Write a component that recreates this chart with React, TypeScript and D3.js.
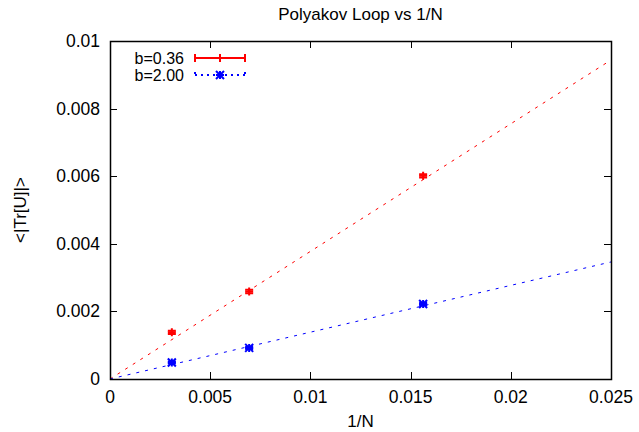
import React, { useRef, useEffect } from "react";
import * as d3 from "d3";

// Data
const invN = [0.003086, 0.006944, 0.015625];
const redVals = [0.00138, 0.00259, 0.00601];
const redErr = [0.00005, 0.00005, 0.00005];
const blueVals = [0.00049, 0.00092, 0.00222];
const blueErr = [0.00003, 0.00003, 0.00003];
const redSlope = 0.3775;
const blueSlope = 0.1385;
const xTicks = [0, 0.005, 0.01, 0.015, 0.02, 0.025];
const yTicks = [0, 0.002, 0.004, 0.006, 0.008, 0.01];
const legendLabels = ["b=0.36", "b=2.00"];

const FONT = "Liberation Sans, Arial, sans-serif";

const App = () => {
  const svgRef = useRef<SVGSVGElement | null>(null);

  useEffect(() => {
    const dims = { width: 639, height: 432, left: 110, right: 611, top: 41, bottom: 379 };

    const svg = d3.select(svgRef.current).attr("width", dims.width).attr("height", dims.height);
    svg.selectAll("*").remove();

    const x = d3.scaleLinear().domain([0, 0.025]).range([dims.left, dims.right]);
    const y = d3.scaleLinear().domain([0, 0.01]).range([dims.bottom, dims.top]);

    svg.append("rect").attr("width", dims.width).attr("height", dims.height).attr("fill", "white");

    // Ticks (inward, mirrored)
    const tl = 7;
    const ticks = svg.append("g").attr("stroke", "black").attr("stroke-width", 1);
    xTicks.forEach((t) => {
      const px = Math.round(x(t)) + 0.5;
      ticks.append("line").attr("x1", px).attr("x2", px).attr("y1", dims.bottom).attr("y2", dims.bottom - tl);
      ticks.append("line").attr("x1", px).attr("x2", px).attr("y1", dims.top).attr("y2", dims.top + tl);
    });
    yTicks.forEach((t) => {
      const py = Math.round(y(t)) + 0.5;
      ticks.append("line").attr("x1", dims.left).attr("x2", dims.left + tl).attr("y1", py).attr("y2", py);
      ticks.append("line").attr("x1", dims.right).attr("x2", dims.right - tl).attr("y1", py).attr("y2", py);
    });

    // Tick labels
    svg
      .append("g")
      .selectAll("text")
      .data(xTicks)
      .join("text")
      .attr("x", (d) => x(d))
      .attr("y", dims.bottom + 24)
      .attr("text-anchor", "middle")
      .attr("font-family", FONT)
      .attr("font-size", 17.5)
      .text((d) => `${d}`);
    svg
      .append("g")
      .selectAll("text")
      .data(yTicks)
      .join("text")
      .attr("x", dims.left - 10)
      .attr("y", (d) => y(d) + 6)
      .attr("text-anchor", "end")
      .attr("font-family", FONT)
      .attr("font-size", 17.5)
      .text((d) => `${d}`);

    // Fit lines
    const fitLine = (slope: number, color: string) =>
      svg
        .append("path")
        .attr("d", d3.line()([[x(0), y(0)], [x(0.025), y(slope * 0.025)]]))
        .attr("stroke", color)
        .attr("stroke-width", 1)
        .attr("stroke-dasharray", "3,6")
        .attr("fill", "none");
    fitLine(redSlope, "#ff0000");
    fitLine(blueSlope, "#0000ff");

    // Point shapes
    const plus = (g: any, cx: number, cy: number, color: string) => {
      g.append("path")
        .attr("d", `M${cx - 4},${cy}H${cx + 4}M${cx},${cy - 4}V${cy + 4}`)
        .attr("stroke", color)
        .attr("stroke-width", 2);
    };
    const star = (g: any, cx: number, cy: number, color: string) => {
      g.append("path")
        .attr(
          "d",
          `M${cx - 4},${cy}H${cx + 4}M${cx},${cy - 4}V${cy + 4}M${cx - 4},${cy - 4}L${cx + 4},${cy + 4}M${cx - 4},${cy + 4}L${cx + 4},${cy - 4}`
        )
        .attr("stroke", color)
        .attr("stroke-width", 2);
    };
    const errBar = (g: any, cx: number, v: number, e: number, color: string) => {
      const y1 = y(v - e);
      const y2 = y(v + e);
      g.append("path")
        .attr("d", `M${cx},${y1}V${y2}M${cx - 4},${y1}H${cx + 4}M${cx - 4},${y2}H${cx + 4}`)
        .attr("stroke", color)
        .attr("stroke-width", 2);
    };

    const pts = svg.append("g");
    invN.forEach((n, i) => {
      errBar(pts, x(n), redVals[i], redErr[i], "#ff0000");
      plus(pts, x(n), y(redVals[i]), "#ff0000");
      errBar(pts, x(n), blueVals[i], blueErr[i], "#0000ff");
      star(pts, x(n), y(blueVals[i]), "#0000ff");
    });

    // Legend
    const leg = svg.append("g");
    const lx1 = 195;
    const lx2 = 245;
    legendLabels.forEach((lab, i) => {
      const ly = 58 + i * 17;
      leg
        .append("text")
        .attr("x", 184)
        .attr("y", ly + 5.5)
        .attr("text-anchor", "end")
        .attr("font-family", FONT)
        .attr("font-size", 16)
        .text(lab);
    });
    leg
      .append("path")
      .attr("d", `M${lx1},58H${lx2}M${lx1},54V62M${lx2},54V62M220,54V62`)
      .attr("stroke", "#ff0000")
      .attr("stroke-width", 2)
      .attr("fill", "none");
    leg
      .append("path")
      .attr("d", `M${lx1},75H${lx2}M${lx1},72V78M${lx2},72V78`)
      .attr("stroke", "#0000ff")
      .attr("stroke-width", 2)
      .attr("stroke-dasharray", "2,4")
      .attr("fill", "none");
    star(leg, 220, 75, "#0000ff");

    // Border
    svg
      .append("rect")
      .attr("x", dims.left + 0.5)
      .attr("y", dims.top + 0.5)
      .attr("width", dims.right - dims.left)
      .attr("height", dims.bottom - dims.top)
      .attr("fill", "none")
      .attr("stroke", "black")
      .attr("stroke-width", 1.5);

    // Titles
    svg
      .append("text")
      .attr("x", (dims.left + dims.right) / 2)
      .attr("y", 20)
      .attr("text-anchor", "middle")
      .attr("font-family", FONT)
      .attr("font-size", 17)
      .text("Polyakov Loop vs 1/N");
    svg
      .append("text")
      .attr("x", (dims.left + dims.right) / 2)
      .attr("y", 427)
      .attr("text-anchor", "middle")
      .attr("font-family", FONT)
      .attr("font-size", 17)
      .text("1/N");
    svg
      .append("text")
      .attr("transform", `translate(26, ${(dims.top + dims.bottom) / 2}) rotate(-90)`)
      .attr("text-anchor", "middle")
      .attr("font-family", FONT)
      .attr("font-size", 17)
      .text("<|Tr[U]|>");
  }, []);

  return (
    <div style={{ position: "absolute", left: 0, top: 0 }}>
      <svg ref={svgRef} style={{ display: "block" }} />
    </div>
  );
};

export default App;
